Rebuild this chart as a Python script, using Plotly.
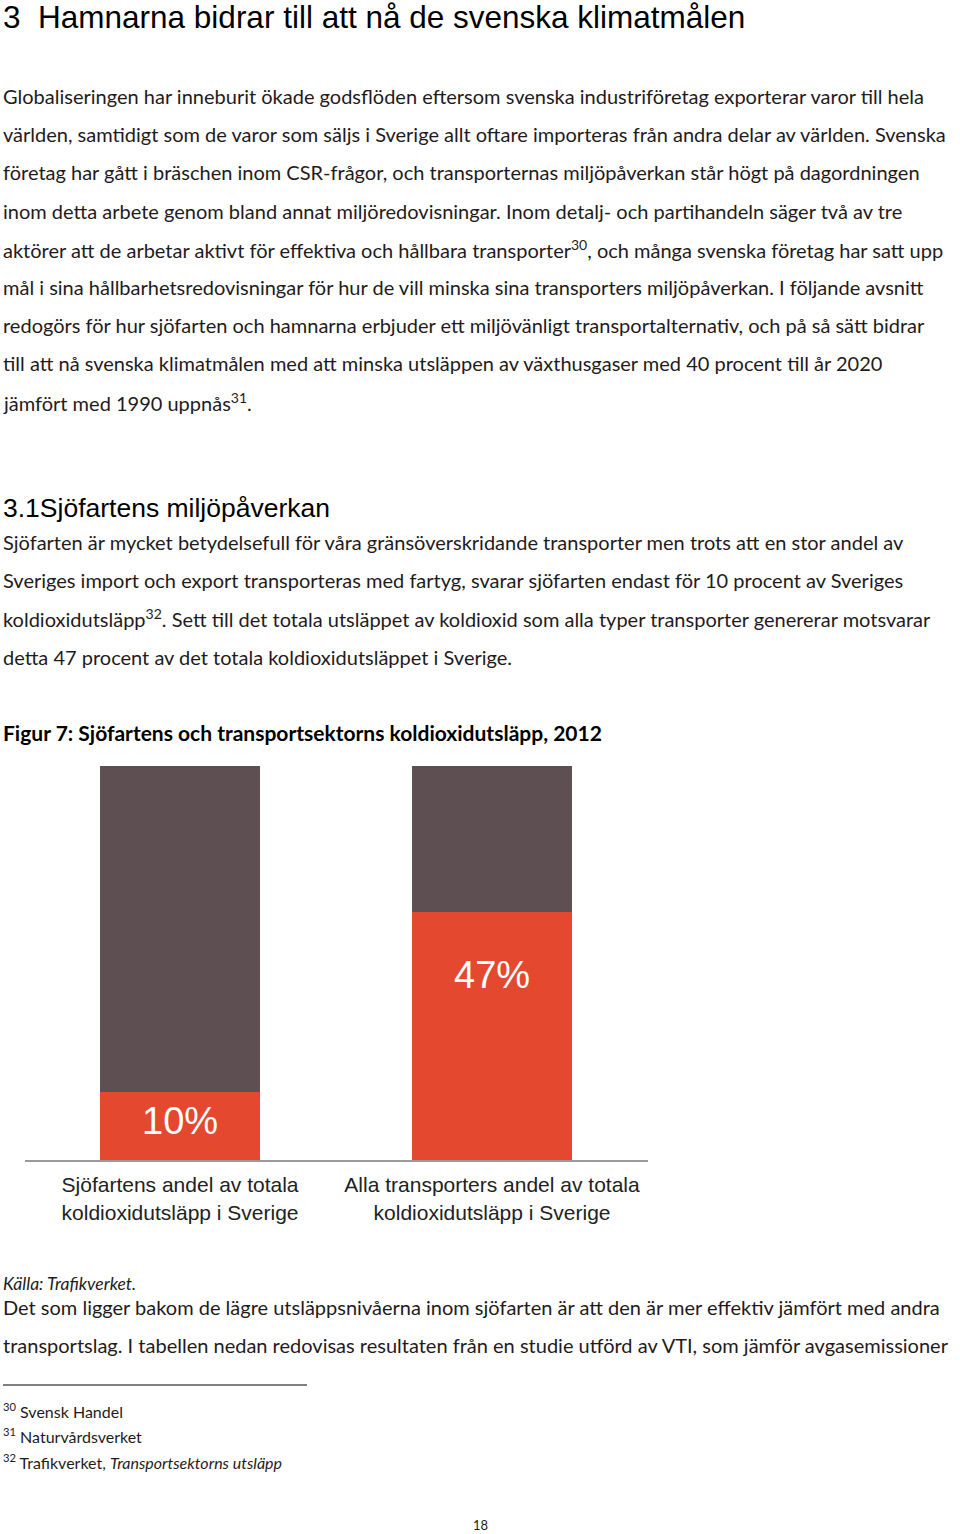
import plotly.graph_objects as go

W, H = 960, 1534

# ---- chart data ----
categories = ["Sjöfartens andel av totala<br>koldioxidutsläpp i Sverige",
              "Alla transporters andel av totala<br>koldioxidutsläpp i Sverige"]
share_values = [10, 47]            # printed shares (%)
share_labels = ["10%", "47%"]
red_heights = [17.3, 62.9]        # drawn height of red segment
grey_heights = [82.7, 37.1]       # drawn height of remaining segment

RED = "#e4482f"
GREY = "#5d4f52"
TEXT = "#1f1b1c"
BODY_FONT = "Lato"
HEAD_FONT = "Liberation Sans"


def py(p):
    return 1 - p / H


xpos = [0, 1]
fig = go.Figure()
fig.add_trace(go.Bar(x=xpos, y=red_heights, marker=dict(color=RED, line=dict(width=0)),
                     width=0.513, hoverinfo="skip", showlegend=False))
fig.add_trace(go.Bar(x=xpos, y=grey_heights, marker=dict(color=GREY, line=dict(width=0)),
                     width=0.513, hoverinfo="skip", showlegend=False))

annotations = []
for xi, val, lab in zip(xpos, share_values, share_labels):
    annotations.append(dict(x=xi, y=val, xref="x", yref="y", text=lab, showarrow=False,
                            font=dict(family=HEAD_FONT, size=38, color="white"),
                            xanchor="center", yanchor="middle"))


def txt(text, x, y, size, family=BODY_FONT, color=TEXT, anchor="left"):
    annotations.append(dict(x=x / W, y=py(y), xref="paper", yref="paper", text=text,
                            showarrow=False, xanchor=anchor, yanchor="middle",
                            font=dict(family=family, size=size, color=color)))


txt("3  Hamnarna bidrar till att nå de svenska klimatmålen", 1, 17, 31.5, family=HEAD_FONT, color="#000")

para1 = [
    "Globaliseringen har inneburit ökade godsflöden eftersom svenska industriföretag exporterar varor till hela",
    "världen, samtidigt som de varor som säljs i Sverige allt oftare importeras från andra delar av världen. Svenska",
    "företag har gått i bräschen inom CSR-frågor, och transporternas miljöpåverkan står högt på dagordningen",
    "inom detta arbete genom bland annat miljöredovisningar. Inom detalj- och partihandeln säger två av tre",
    "aktörer att de arbetar aktivt för effektiva och hållbara transporter<sup>30</sup>, och många svenska företag har satt upp",
    "mål i sina hållbarhetsredovisningar för hur de vill minska sina transporters miljöpåverkan. I följande avsnitt",
    "redogörs för hur sjöfarten och hamnarna erbjuder ett miljövänligt transportalternativ, och på så sätt bidrar",
    "till att nå svenska klimatmålen med att minska utsläppen av växthusgaser med 40 procent till år 2020",
    "jämfört med 1990 uppnås<sup>31</sup>.",
]
for i, line in enumerate(para1):
    txt(line, 1, 96 + i * 38.2, 20)

txt("3.1Sjöfartens miljöpåverkan", 1, 508, 26.5, family=HEAD_FONT, color="#000")

para2 = [
    "Sjöfarten är mycket betydelsefull för våra gränsöverskridande transporter men trots att en stor andel av",
    "Sveriges import och export transporteras med fartyg, svarar sjöfarten endast för 10 procent av Sveriges",
    "koldioxidutsläpp<sup>32</sup>. Sett till det totala utsläppet av koldioxid som alla typer transporter genererar motsvarar",
    "detta 47 procent av det totala koldioxidutsläppet i Sverige.",
]
for i, line in enumerate(para2):
    txt(line, 1, 542 + i * 38.2, 20)

txt("<b>Figur 7: Sjöfartens och transportsektorns koldioxidutsläpp, 2012</b>", 1, 733, 21, color="#000")

txt("<i>Källa: Trafikverket.</i>", 1, 1283, 17.5)
txt("Det som ligger bakom de lägre utsläppsnivåerna inom sjöfarten är att den är mer effektiv jämfört med andra", 1, 1307, 20)
txt("transportslag. I tabellen nedan redovisas resultaten från en studie utförd av VTI, som jämför avgasemissioner", 1, 1345, 20)

footnotes = ["<sup>30</sup> Svensk Handel", "<sup>31</sup> Naturvårdsverket",
             "<sup>32</sup> Trafikverket, <i>Transportsektorns utsläpp</i>"]
for i, fn in enumerate(footnotes):
    txt(fn, 1, 1410 + i * 25.8, 16)

txt("18", 480, 1525, 13, anchor="center")

shapes = [dict(type="line", xref="paper", yref="paper", x0=3 / W, x1=307 / W,
               y0=py(1385), y1=py(1385), line=dict(color="#000", width=1))]

fig.update_layout(
    width=W, height=H, margin=dict(l=0, r=0, t=0, b=0),
    paper_bgcolor="white", plot_bgcolor="white",
    barmode="stack", bargap=0,
    annotations=annotations, shapes=shapes,
    xaxis=dict(domain=[25 / W, 648 / W], range=[-0.497, 1.5], tickvals=xpos, ticktext=categories,
               showgrid=False, zeroline=False, showline=True, linecolor="#9a9a9a", linewidth=2,
               ticks="", ticklabelstandoff=5,
               tickfont=dict(family=HEAD_FONT, size=21, color="#222"), fixedrange=True),
    yaxis=dict(domain=[py(1160), py(766)], range=[0, 100], visible=False, fixedrange=True),
    font=dict(family=BODY_FONT),
)

fig.write_html("out.html", config={"displayModeBar": False},
               post_script="document.body.style.margin='0';")
